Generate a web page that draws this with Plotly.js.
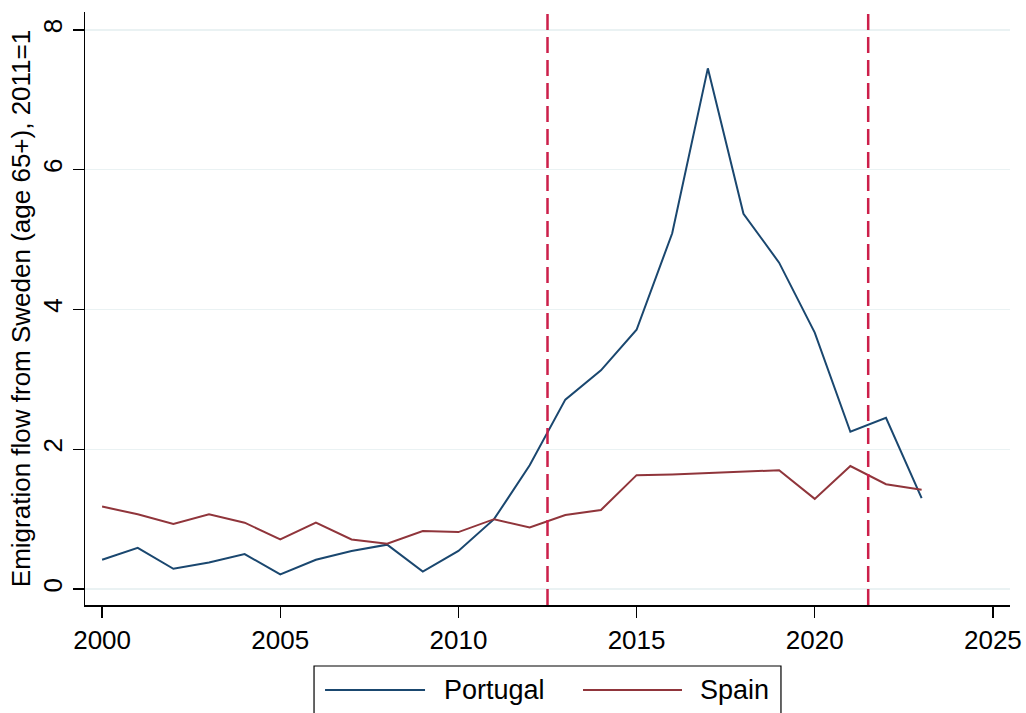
<!DOCTYPE html>
<html>
<head>
<meta charset="utf-8">
<script src="https://cdn.plot.ly/plotly-3.0.1.min.js"></script>
<style>html,body{margin:0;padding:0;background:#fff;}#chart{width:1026px;height:713px;}</style>
</head>
<body>
<div id="chart"></div>
<script>
const years = [2000,2001,2002,2003,2004,2005,2006,2007,2008,2009,2010,2011,2012,2013,2014,2015,2016,2017,2018,2019,2020,2021,2022,2023];
const portugal = [0.42,0.59,0.29,0.38,0.50,0.21,0.42,0.545,0.635,0.25,0.545,1.00,1.77,2.71,3.13,3.71,5.09,7.45,5.37,4.67,3.67,2.25,2.45,1.30];
const spain = [1.18,1.07,0.93,1.07,0.95,0.71,0.95,0.71,0.65,0.83,0.815,1.00,0.88,1.06,1.13,1.63,1.64,1.66,1.68,1.70,1.29,1.76,1.50,1.42];
const seriesNames = ['Portugal','Spain'];
const seriesColors = ['#1a476f','#90353b'];
const eventLines = [2012.5, 2021.5];
const xTicks = [2000,2005,2010,2015,2020,2025];
const yTicks = [0,2,4,6,8];
const yTitle = 'Emigration flow from Sweden (age 65+), 2011=1';

const FONT = 'Liberation Sans, Arial, Helvetica, sans-serif';

const traces = [
  {x: years, y: portugal, name: seriesNames[0], type: 'scatter', mode: 'lines',
   line: {color: seriesColors[0], width: 2}, showlegend: false},
  {x: years, y: spain, name: seriesNames[1], type: 'scatter', mode: 'lines',
   line: {color: seriesColors[1], width: 2}, showlegend: false}
];

const shapes = eventLines.map(v => ({
  type: 'line', xref: 'x', yref: 'paper', x0: v, x1: v, y0: 0, y1: 1,
  line: {color: '#cc1f4a', width: 2.5, dash: '16px,7px'}
}));

// custom legend (box + sample lines)
const legY = -0.1433;
shapes.push({type: 'rect', xref: 'paper', yref: 'paper', x0: 0.2476, x1: 0.7524, y0: -0.1029, y1: -0.20,
  line: {color: '#000', width: 1.2}, fillcolor: 'rgba(0,0,0,0)', layer: 'above'});
shapes.push({type: 'line', xref: 'paper', yref: 'paper', x0: 0.2595, x1: 0.3676, y0: legY, y1: legY,
  line: {color: seriesColors[0], width: 2}});
shapes.push({type: 'line', xref: 'paper', yref: 'paper', x0: 0.5384, x1: 0.6454, y0: legY, y1: legY,
  line: {color: seriesColors[1], width: 2}});

const annotations = [
  {xref: 'paper', yref: 'paper', x: 0.386, y: legY, xanchor: 'left', yanchor: 'middle',
   text: seriesNames[0], showarrow: false, font: {family: FONT, size: 27, color: '#000'}},
  {xref: 'paper', yref: 'paper', x: 0.6627, y: legY, xanchor: 'left', yanchor: 'middle',
   text: seriesNames[1], showarrow: false, font: {family: FONT, size: 27, color: '#000'}}
];

const layout = {
  width: 1026, height: 713,
  paper_bgcolor: '#fff', plot_bgcolor: '#fff',
  margin: {l: 85, r: 16, t: 12, b: 108},
  showlegend: false,
  font: {family: FONT, size: 26, color: '#000'},
  xaxis: {
    range: [1999.52, 2025.48], tickvals: xTicks, ticktext: xTicks.map(String),
    showgrid: false, zeroline: false, showline: true, linecolor: '#000', linewidth: 1.5,
    ticks: 'outside', ticklen: 11, tickwidth: 1.5, tickcolor: '#000',
    tickfont: {family: FONT, size: 26, color: '#000'}
  },
  yaxis: {
    range: [-0.228, 8.256], tickvals: yTicks, ticktext: yTicks.map(String),
    showgrid: true, gridcolor: '#eaf2f3', gridwidth: 1.5, zeroline: false,
    showline: true, linecolor: '#000', linewidth: 1.5,
    ticks: 'outside', ticklen: 11, tickwidth: 1.5, tickcolor: '#000', tickangle: -90,
    tickfont: {family: FONT, size: 26, color: '#000'},
    title: {text: yTitle, font: {family: FONT, size: 26, color: '#000'}, standoff: 0}
  },
  shapes: shapes,
  annotations: annotations
};

Plotly.newPlot('chart', traces, layout, {displayModeBar: false, staticPlot: true});
</script>
</body>
</html>
